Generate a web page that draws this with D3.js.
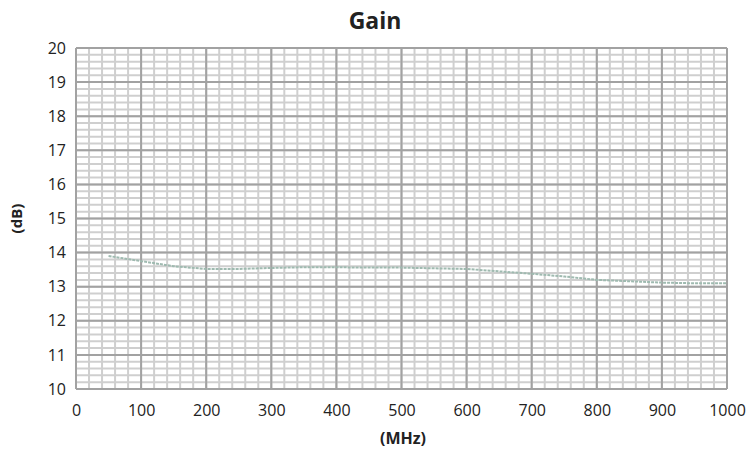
<!DOCTYPE html>
<html>
<head>
<meta charset="utf-8">
<script src="https://cdn.jsdelivr.net/npm/d3@7"></script>
<style>
  body { margin: 0; background: #fff; }
  text { font-family: "Open Sans", "DejaVu Sans", sans-serif; fill: #222; }
</style>
</head>
<body>
<div id="chart"></div>
<script>
// gain vs frequency
var freqMHz = [50, 100, 150, 200, 250, 300, 350, 400, 450, 500, 550, 600, 650, 700, 750, 800, 850, 900, 950, 1000];
var gainDb  = [13.9, 13.75, 13.6, 13.52, 13.52, 13.55, 13.57, 13.57, 13.56, 13.56, 13.54, 13.52, 13.45, 13.38, 13.3, 13.2, 13.16, 13.12, 13.1, 13.1];
var xTicks = [0, 100, 200, 300, 400, 500, 600, 700, 800, 900, 1000];
var yTicks = [10, 11, 12, 13, 14, 15, 16, 17, 18, 19, 20];

var width = 748, height = 456;
var margin = {top: 48, right: 21, bottom: 67, left: 76};
var w = width - margin.left - margin.right,
    h = height - margin.top - margin.bottom;

var svg = d3.select("#chart").append("svg")
    .attr("width", width)
    .attr("height", height);

var g = svg.append("g")
    .attr("transform", "translate(" + margin.left + "," + margin.top + ")");

var x = d3.scaleLinear().domain([0, 1000]).range([0, w]);
var y = d3.scaleLinear().domain([10, 20]).range([h, 0]);

// minor grid: 20 MHz / 0.2 dB
var minorX = d3.range(0, 1001, 20), minorY = d3.range(10, 20.001, 0.2);
g.selectAll(".minx").data(minorX).enter().append("line")
    .attr("x1", d => x(d)).attr("x2", d => x(d))
    .attr("y1", 0).attr("y2", h)
    .attr("stroke", "#cfcfcf").attr("stroke-width", 2);
g.selectAll(".miny").data(minorY).enter().append("line")
    .attr("y1", d => y(d)).attr("y2", d => y(d))
    .attr("x1", 0).attr("x2", w)
    .attr("stroke", "#cfcfcf").attr("stroke-width", 2);

// major grid
g.selectAll(".majx").data(xTicks).enter().append("line")
    .attr("x1", d => x(d)).attr("x2", d => x(d))
    .attr("y1", 0).attr("y2", h)
    .attr("stroke", "#a2a2a2").attr("stroke-width", 2);
g.selectAll(".majy").data(yTicks).enter().append("line")
    .attr("y1", d => y(d)).attr("y2", d => y(d))
    .attr("x1", 0).attr("x2", w)
    .attr("stroke", "#a2a2a2").attr("stroke-width", 2);

// axes (labels only)
var xAxis = g.append("g")
    .attr("transform", "translate(0," + h + ")")
    .call(d3.axisBottom(x).tickValues(xTicks).tickFormat(d3.format("d")).tickSize(0).tickPadding(16));
var yAxis = g.append("g")
    .call(d3.axisLeft(y).tickValues(yTicks).tickFormat(d3.format("d")).tickSize(0).tickPadding(10));
[xAxis, yAxis].forEach(function(a) {
    a.select(".domain").remove();
    a.selectAll("text").style("font-size", "16px")
        .style("font-family", "'Open Sans', sans-serif").attr("fill", "#1a1a1a");
});

// gain line
var line = d3.line().x((d, i) => x(freqMHz[i])).y(d => y(d));
g.append("path")
    .datum(gainDb)
    .attr("d", line)
    .attr("fill", "none")
    .attr("stroke", "#9fbab0")
    .attr("stroke-width", 2)
    .attr("stroke-dasharray", "3,1");

svg.append("text")
    .attr("x", 375).attr("y", 29)
    .attr("text-anchor", "middle")
    .style("font-size", "23px").style("font-weight", "bold")
    .text("Gain");

svg.append("text")
    .attr("x", 403).attr("y", 444)
    .attr("text-anchor", "middle")
    .style("font-size", "16px").style("font-weight", "bold")
    .text("(MHz)");

svg.append("text")
    .attr("transform", "translate(22," + (margin.top + h / 2) + ") rotate(-90)")
    .attr("text-anchor", "middle")
    .style("font-size", "15px").style("font-weight", "bold")
    .text("(dB)");
</script>
</body>
</html>
